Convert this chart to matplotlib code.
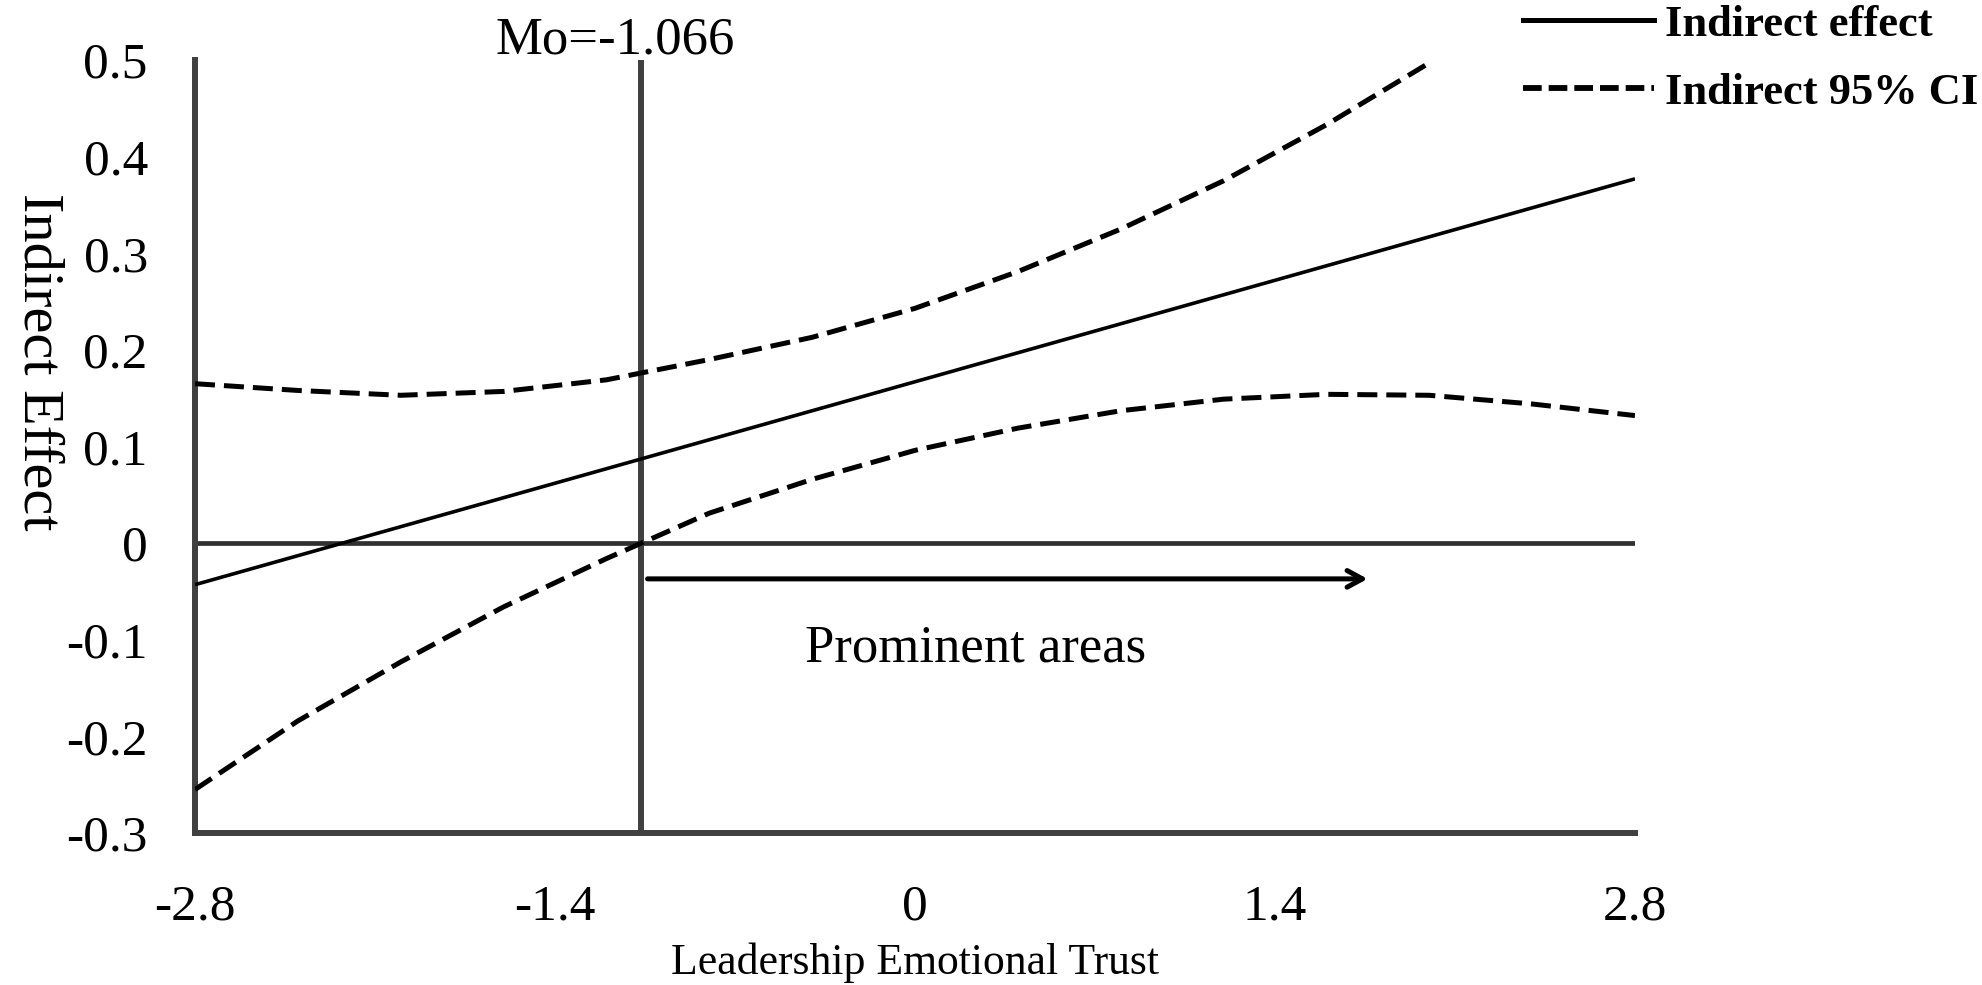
import matplotlib
matplotlib.use("Agg")
import matplotlib.pyplot as plt
from matplotlib.lines import Line2D

plt.rcParams['font.family'] = ['Liberation Serif', 'DejaVu Serif']
plt.rcParams['axes.unicode_minus'] = False

# ---- data ----
x_effect = [-2.8, -1.4, 0.0, 1.4, 2.8]
y_effect = [-0.043, 0.062, 0.167, 0.272, 0.377]

x_upper = [-2.8, -2.4, -2.0, -1.6, -1.2, -0.8, -0.4, 0.0, 0.4, 0.8, 1.2, 1.6, 2.0]
y_upper = [0.165, 0.158, 0.153, 0.157, 0.169, 0.190, 0.213, 0.243, 0.281, 0.325, 0.375, 0.433, 0.497]

x_lower = [-2.8, -2.4, -2.0, -1.6, -1.2, -0.8, -0.4, 0.0, 0.4, 0.8, 1.2, 1.6, 2.0, 2.4, 2.8]
y_lower = [-0.255, -0.184, -0.123, -0.066, -0.016, 0.031, 0.066, 0.096, 0.119, 0.137, 0.149, 0.154, 0.153, 0.144, 0.132]

mo_value = -1.066
arrow_start = -1.04
arrow_end = 1.76
arrow_y = -0.037

x_ticks = [-2.8, -1.4, 0.0, 1.4, 2.8]
x_ticklabels = ["-2.8", "-1.4", "0", "1.4", "2.8"]
y_ticks = [-0.3, -0.2, -0.1, 0.0, 0.1, 0.2, 0.3, 0.4, 0.5]
y_ticklabels = ["-0.3", "-0.2", "-0.1", "0", "0.1", "0.2", "0.3", "0.4", "0.5"]

W, H = 1983, 985
fig = plt.figure(figsize=(W / 100, H / 100), dpi=100)
ax = fig.add_axes([195 / W, 1 - 833 / H, 1440 / W, 773 / H])

axis_col = '#404040'
ax.set_xlim(-2.8, 2.8)
ax.set_ylim(-0.3, 0.5)

# zero line and Mo line
ax.axhline(0, color='#303030', lw=3.4, zorder=2)
ax.axvline(mo_value, color=axis_col, lw=4.3, zorder=2)

# curves
ax.plot(x_effect, y_effect, color='black', lw=2.6, zorder=3, solid_capstyle='butt')
ax.plot(x_upper, y_upper, color='black', lw=3.6, dashes=(4.0, 1.8), zorder=3)
ax.plot(x_lower, y_lower, color='black', lw=3.6, dashes=(4.0, 1.8), zorder=3)

# arrow
ax.annotate('', xy=(arrow_end, arrow_y), xytext=(arrow_start, arrow_y),
            arrowprops=dict(arrowstyle='->,head_length=1.1,head_width=0.6',
                            color='black', lw=3.6, shrinkA=0, shrinkB=0))
ax.text(0.234, -0.122, 'Prominent areas', fontsize=38, ha='center', va='baseline')
ax.text(-1.633, 0.507, 'Mo=-1.066', fontsize=38, ha='left', va='baseline', clip_on=False)

# spines
for s in ['top', 'right']:
    ax.spines[s].set_visible(False)
for s in ['left', 'bottom']:
    ax.spines[s].set_color(axis_col)
    ax.spines[s].set_linewidth(4.3)

ax.set_xticks(x_ticks)
ax.set_xticklabels(x_ticklabels)
ax.set_yticks(y_ticks)
ax.set_yticklabels(y_ticklabels)
ax.tick_params(axis='both', length=0, labelsize=37)
ax.tick_params(axis='x', pad=37)
ax.tick_params(axis='y', pad=34)

ax.set_xlabel('Leadership Emotional Trust', fontsize=31.5)
ax.xaxis.label.set_va('baseline')
ax.xaxis.set_label_coords(0.5, -0.183)

ax.set_ylabel('Indirect Effect', fontsize=42, rotation=-90, va='center', ha='center')
ax.yaxis.set_label_coords(-0.109, 0.61)

handles = [Line2D([], [], color='black', lw=3.6),
           Line2D([], [], color='black', lw=4.2, dashes=(3.2, 1.2))]
leg = fig.legend(handles, ['Indirect effect', 'Indirect 95% CI'],
                 loc='upper left', bbox_to_anchor=(1523 / W, 0.995),
                 frameon=False, handlelength=2.95, handletextpad=0.25,
                 labelspacing=0.62, borderpad=0.0, borderaxespad=0.0,
                 prop={'family': 'Liberation Serif', 'weight': 'bold', 'size': 32})

fig.savefig('out.png', dpi=100)
